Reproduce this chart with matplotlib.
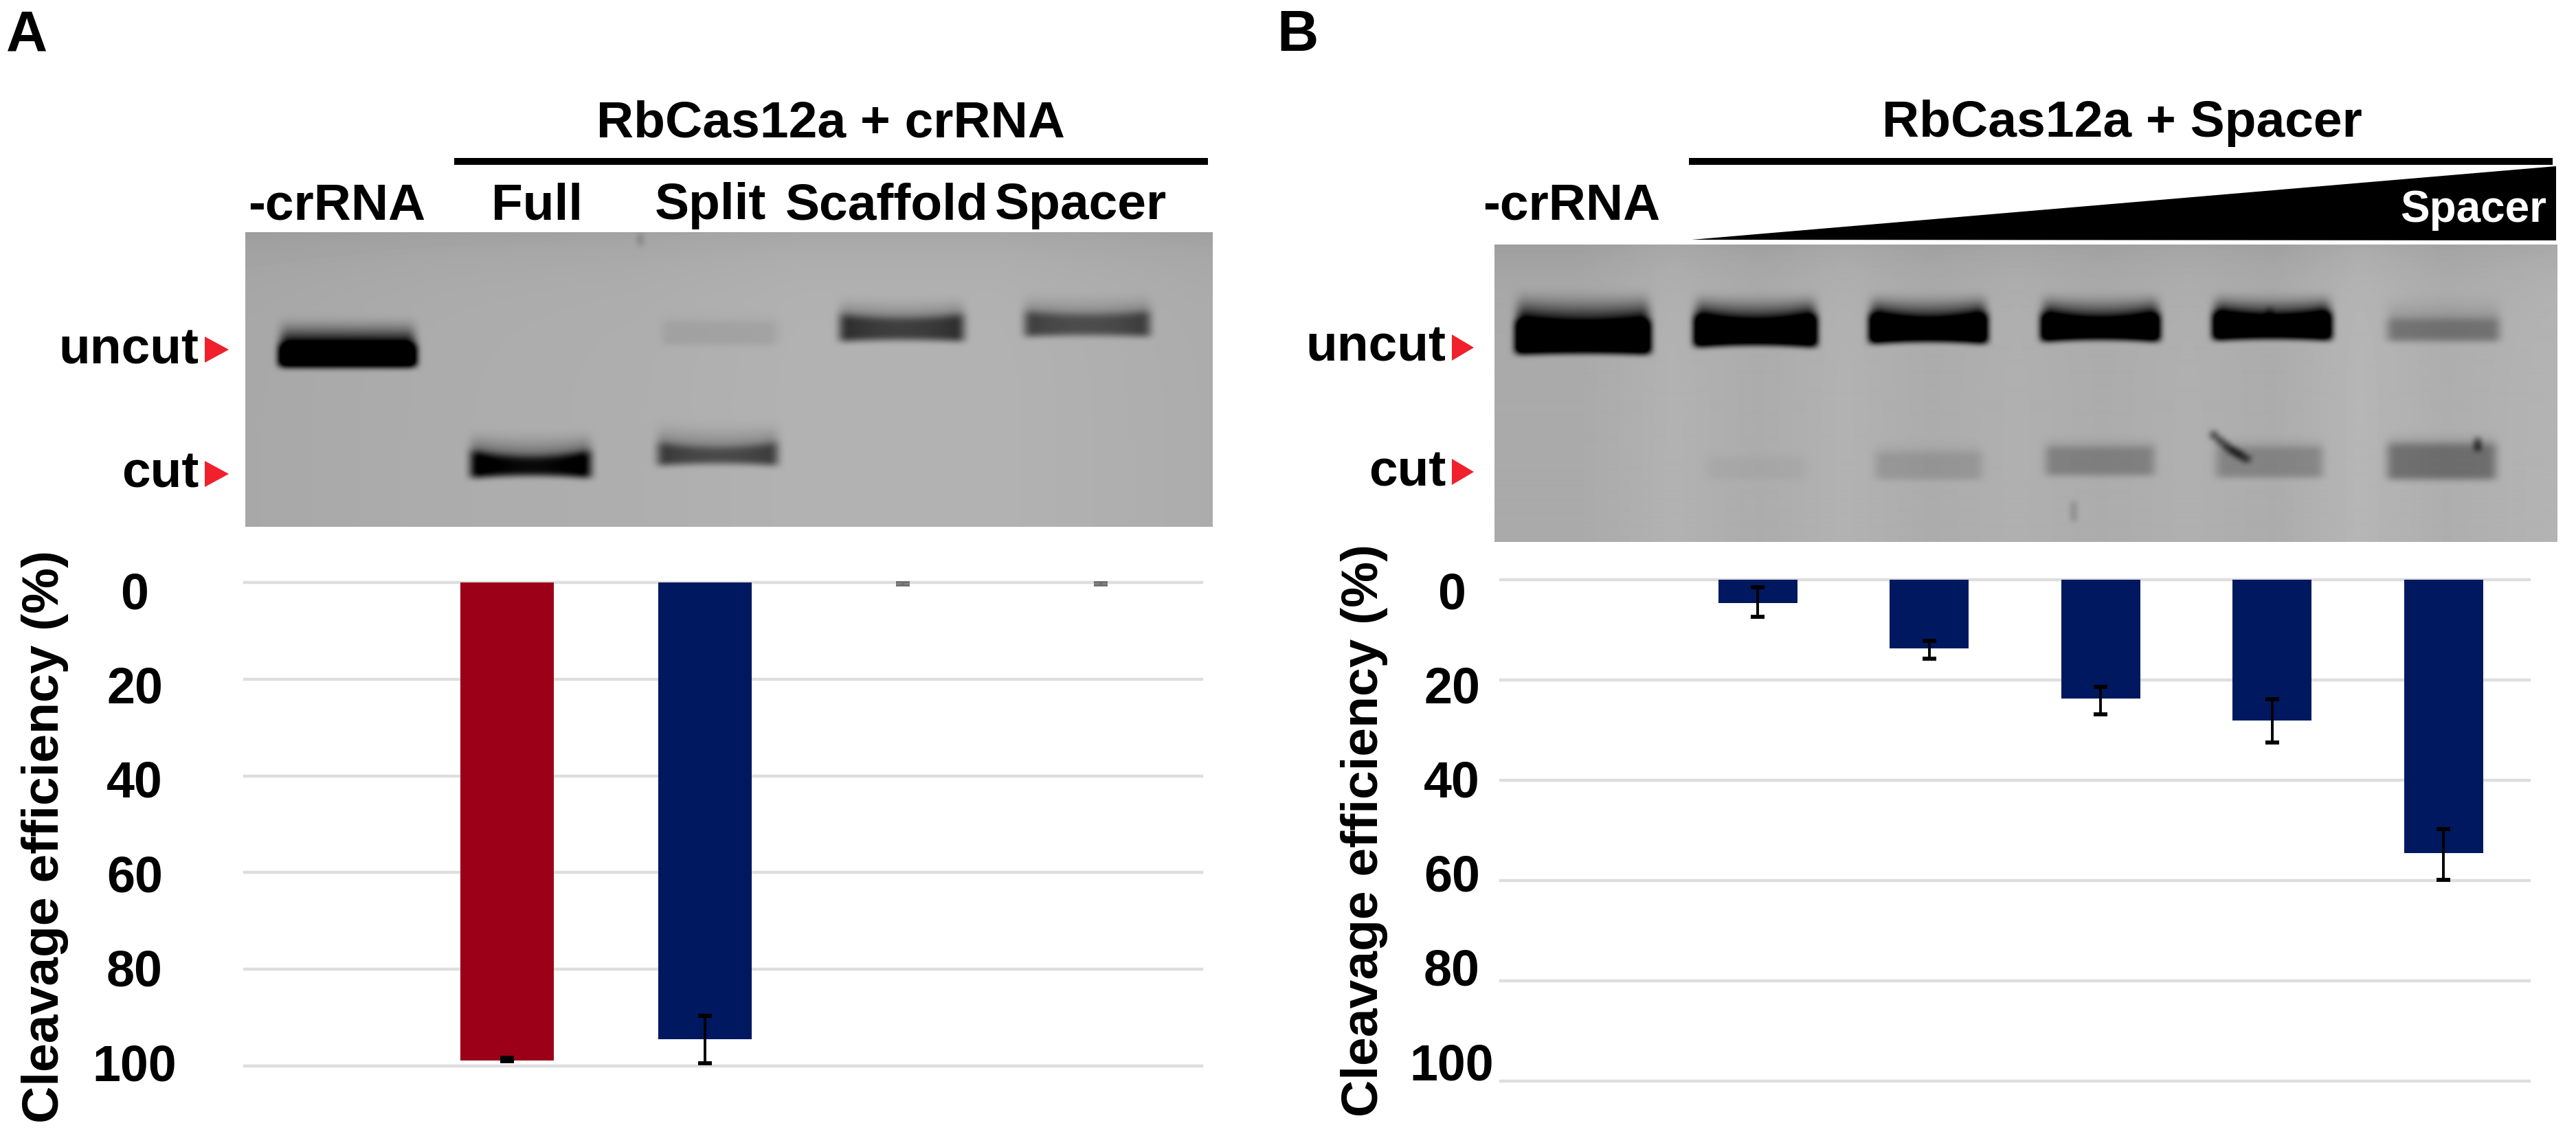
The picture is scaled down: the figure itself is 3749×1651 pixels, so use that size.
import numpy as np
import matplotlib
matplotlib.use("Agg")
import matplotlib.pyplot as plt
from matplotlib.patches import Polygon

W, H = 3749, 1651

plt.rcParams['font.family'] = ['Liberation Sans', 'DejaVu Sans']
plt.rcParams['font.weight'] = 'bold'

# panel A values
cats_a = ['-crRNA', 'Full', 'Split', 'Scaffold', 'Spacer']
vals_a = [0, 98.8, 94.5, 0, 0]
err_low_a = [None, 98.3, 89.7, 0.2, 0.2]
err_high_a = [None, 99.0, 99.4, 0.6, 0.6]

# panel B values (lanes with rising spacer amount)
cats_b = ['-crRNA', 'S1', 'S2', 'S3', 'S4', 'S5']
vals_b = [0, 4.6, 13.7, 23.7, 28.1, 54.5]
err_low_b = [None, 1.5, 12.2, 21.4, 23.8, 49.7]
err_high_b = [None, 7.4, 15.7, 26.8, 32.5, 59.8]

y_ticks = [0, 20, 40, 60, 80, 100]

# gel bands: x0, x1, smear top, core top, core bottom, darkness, smile
bands_a = [
    (401, 611, 455, 503, 533, 430, 0),
    (1215, 1410, 425, 458, 497, 140, 6),
    (1484, 1681, 420, 454, 490, 120, 5),
    (956, 1139, 445, 470, 502, 14, 0),
    (678, 867, 620, 656, 696, 200, 10),
    (950, 1139, 605, 644, 678, 125, 8),
]
bands_b = [
    (2201, 2407, 415, 468, 515, 470, 5),
    (2461, 2649, 420, 460, 505, 470, 10),
    (2716, 2897, 420, 458, 500, 470, 10),
    (2966, 3148, 420, 458, 497, 470, 10),
    (3216, 3398, 420, 456, 495, 470, 8),
    (3467, 3645, 420, 466, 497, 62, 0),
    (2476, 2637, 650, 668, 698, 7, 0),
    (2722, 2892, 635, 660, 698, 24, 0),
    (2970, 3143, 630, 652, 692, 46, 0),
    (3218, 3388, 630, 652, 695, 42, 0),
    (3467, 3640, 625, 648, 698, 66, 0),
]
# small dirt on the gels: x, y, half width, half height, darkness
spots_a = [(932, 349, 3, 8, 45)]
spots_b = [(3222, 634, 5, 5, 120), (3231, 642, 5, 5, 120), (3240, 649, 5, 5, 120), (3249, 656, 6, 5, 120),
           (3259, 662, 6, 5, 120), (3269, 668, 6, 4, 110),
           (3606, 647, 4, 9, 110), (3303, 456, 3, 8, 50), (3018, 745, 3, 14, 45)]


def px_rect(x0, y0, x1, y1):
    return [x0 / W, 1 - y1 / H, (x1 - x0) / W, (y1 - y0) / H]


def blur(img, size):
    kern = np.hanning(size + 2)[1:-1]
    kern = kern / kern.sum()
    pad = size // 2 + 1
    tmp = np.pad(img, pad, mode='edge')
    tmp = np.array([np.convolve(r, kern, mode='same') for r in tmp])
    tmp = np.array([np.convolve(c, kern, mode='same') for c in tmp.T]).T
    return tmp[pad:-pad, pad:-pad]


def make_gel(x0, y0, x1, y1, bands, spots, shade_x, shade_v):
    xs = np.arange(x0, x1) + 0.5
    ys = np.arange(y0, y1) + 0.5
    xx, yy = np.meshgrid(xs, ys)
    img = np.interp(xx, shade_x, shade_v)
    img = img - 12 * np.exp(-(yy - y0) / 45.0)
    for bx0, bx1, top, core, bot, dark, smile in bands:
        f = np.clip((xx - bx0) / (bx1 - bx0), 0, 1)
        bow = 1 - (2 * f - 1) ** 2
        side = np.clip((xx - bx0) / 16, 0, 1) * np.clip((bx1 - xx) / 16, 0, 1)
        core_y = core + smile * bow
        bot_y = bot - 0.4 * smile * bow
        t = np.clip((yy - top) / (core_y - top), 0, 1)
        prof = 0.5 * t ** 2
        inner = np.clip((yy - core_y) / 8 + 0.5, 0, 1)
        prof = prof + (1 - prof) * inner
        drop = np.clip((bot_y - yy) / 6 + 0.5, 0, 1)
        level = dark * (1 - 0.18 * bow * (smile > 0))
        img = img - level * prof * drop * side
    for sx, sy, dx, dy, dark in spots:
        img = img - dark * (np.abs(xx - sx) < dx) * (np.abs(yy - sy) < dy)
    return np.clip(blur(np.clip(img, -60, 255), 21), 0, 255)


def draw_gel(rect, img):
    ax = fig.add_axes(px_rect(*rect))
    ax.imshow(img, cmap='gray', vmin=0, vmax=255, aspect='auto', interpolation='bilinear')
    ax.axis('off')


def draw_bars(rect, cats, vals, low, high, colors, err_colors, xlim, width, label_rect, label_y, label_xy):
    x0, y0, x1, y1 = rect
    ax = fig.add_axes(px_rect(x0, y0, x1, y1))
    xpos = np.arange(len(cats))
    ax.bar(xpos, vals, width, color=colors, zorder=3)
    for i in xpos:
        if low[i] is None:
            continue
        thick = 2.6 if err_colors[i] != 'k' else 4.2
        ax.errorbar(i, vals[i], yerr=[[max(vals[i] - low[i], 0)], [high[i] - vals[i]]], color=err_colors[i],
                    elinewidth=2.8, capsize=7.5, capthick=thick, zorder=4, clip_on=False)
    ax.set_xlim(*xlim)
    ax.set_ylim(100, 0)
    ax.set_xticks([])
    ax.set_yticks(y_ticks)
    ax.tick_params(axis='y', length=0, labelleft=False)
    ax.grid(axis='y', color='#dedede', linewidth=3.2)
    for g in ax.get_ygridlines():
        g.set_clip_on(False)
    ax.set_axisbelow(True)
    for s in ax.spines.values():
        s.set_visible(False)
    ax.patch.set_alpha(0)
    ax.set_ylabel(label_y, fontsize=54, fontweight='bold', rotation=90, ha='center', va='bottom')
    ax.yaxis.set_label_coords(label_xy[0] / W, 1 - label_xy[1] / H, transform=fig.transFigure)

    # tick labels sit on their own scale in the original, not quite on the grid
    lx = fig.add_axes(px_rect(*label_rect))
    lx.set_ylim(100, 0)
    lx.set_yticks(y_ticks)
    lx.set_yticklabels([str(t) for t in y_ticks], fontsize=53, fontweight='bold', ha='center')
    lx.tick_params(axis='y', length=0, pad=0)
    lx.set_xticks([])
    lx.patch.set_alpha(0)
    for s in lx.spines.values():
        s.set_visible(False)
    return ax


fig = plt.figure(figsize=(W / 100, H / 100), dpi=100, facecolor='white')

img_a = make_gel(357, 338, 1765, 767, bands_a, spots_a,
                 [357, 640, 920, 1170, 1450, 1765], [168, 172, 174, 178, 178, 172])
draw_gel((357, 338, 1765, 767), img_a)
img_b = make_gel(2175, 356, 3722, 789, bands_b, spots_b,
                 [2175, 2300, 2435, 2560, 2685, 2810, 2935, 3060, 3185, 3310, 3435, 3560, 3722],
                 [170, 170, 178, 172, 178, 172, 176, 172, 176, 172, 182, 174, 180])
draw_gel((2175, 356, 3722, 789), img_b)

draw_bars((356, 848, 1749, 1552), cats_a, vals_a, err_low_a, err_high_a,
          ['#9c0018', '#9c0018', '#00185f', '#00185f', '#00185f'],
          ['k', 'k', 'k', '#6e6e6e', '#6e6e6e'],
          (-0.326, 4.51), 0.47, (196, 859, 197, 1546),
          'Cleavage efficiency (%)', (100, 1218))
draw_bars((2184, 844, 3681, 1574), cats_b, vals_b, err_low_b, err_high_b,
          '#00185f', ['k'] * 6,
          (-0.5, 5.5), 0.46, (2113, 859, 2114, 1545),
          'Cleavage efficiency (%)', (2020, 1209))

# overlay in figure pixels for labels and annotation shapes
ov = fig.add_axes([0, 0, 1, 1])
ov.set_xlim(0, W)
ov.set_ylim(H, 0)
ov.axis('off')
ov.patch.set_alpha(0)

ov.text(9, 74, 'A', fontsize=60, ha='left', va='baseline')
ov.text(1858, 74, 'B', fontsize=60, ha='left', va='baseline')

ov.text(1209, 199, 'RbCas12a + crRNA', fontsize=54, ha='center', va='baseline')
ov.text(3088, 199, 'RbCas12a + Spacer', fontsize=54, ha='center', va='baseline')
ov.plot([661, 1758], [235, 235], color='k', lw=7.2, solid_capstyle='butt')
ov.plot([2458, 3715], [235, 235], color='k', lw=7.2, solid_capstyle='butt')

lane_x_a = [490, 782, 1034, 1291, 1573]
for x, name in zip(lane_x_a, cats_a):
    ov.text(x, 319, name, fontsize=54, ha='center', va='baseline')
ov.text(2287, 319, '-crRNA', fontsize=54, ha='center', va='baseline')

ov.add_patch(Polygon([(2462, 349), (3720, 242), (3720, 350)], closed=True, fc='k', ec='none'))
ov.text(3706, 323, 'Spacer', fontsize=46, color='white', ha='right', va='baseline')

for right, tri_x, ys in [(289, (298, 333), ((530, 509), (710, 690))),
                         (2104, (2113, 2145), ((525, 506), (707, 687)))]:
    for name, (base, mid) in zip(['uncut', 'cut'], ys):
        ov.text(right, base, name, fontsize=54, ha='right', va='baseline')
        ov.add_patch(Polygon([(tri_x[0], mid - 19), (tri_x[1], mid), (tri_x[0], mid + 19)],
                             closed=True, fc='#f0202c', ec='none'))

fig.savefig('out.png', dpi=100, facecolor='white')
